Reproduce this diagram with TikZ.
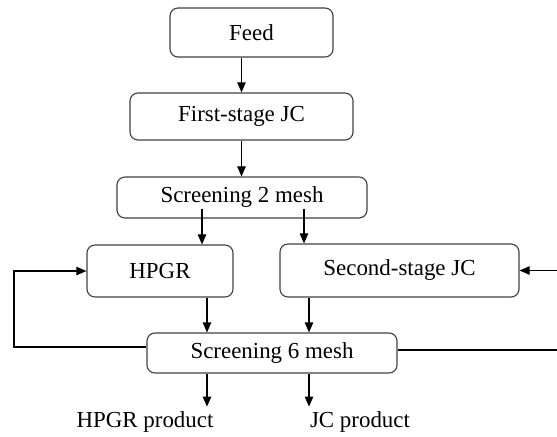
\documentclass[tikz,border=0pt]{standalone}
\usepackage{fontspec}
\setmainfont{Liberation Serif}
\usetikzlibrary{arrows.meta}
\tikzset{
    box/.style = {draw = black!75, line width = .8pt, rounded corners = .2cm, inner sep = 0pt},
    flow/.style = {line width = .8pt, -{Triangle[length = .25cm, width = .21cm]}}
}
\begin{document}
\begin{tikzpicture}[x = .025cm, y = -.025cm, font = \fontsize{16.3}{19.5}\selectfont]
                \useasboundingbox (0, 0) rectangle (557, 436);

                \node[box, minimum width = 4.075cm, minimum height = 1.225cm](feed) at (251.5, 32.5) {Feed};
                \node[box, minimum width = 5.575cm, minimum height = 1.175cm](first) at (241.5, 116.5) {First-stage JC};
                \node[box, minimum width = 6.25cm, minimum height = 1.025cm](screen2) at (242, 197.5) {Screening 2 mesh};

                \node[box, minimum width = 3.65cm, minimum height = 1.3cm](hpgr) at (160, 271) {HPGR};
                \node[box, minimum width = 5.975cm, minimum height = 1.325cm](second) at (399.5, 270.5) {Second-stage JC};

                \node[box, minimum width = 6.25cm, minimum height = 1cm](screen6) at (272, 353) {Screening 6 mesh};

                \node(hprod) at (145, 422) {HPGR product};
                \node(jprod) at (360, 422) {JC product};

                \coordinate(hin) at (202, 0);
                \coordinate(jin) at (304, 0);
                \coordinate(hcol) at (207, 0);
                \coordinate(jcol) at (309, 0);
                \coordinate(left) at (14, 0);
                \coordinate(right) at (560, 0);

                \draw[flow](feed.south -| first.center) to (first.north);
                \draw[flow](first.south) to (screen2.north -| first.south);

                \draw[flow]([yshift = .25cm]screen2.south -| hin) to (hpgr.north -| hin);
                \draw[flow]([yshift = .25cm]screen2.south -| jin) to (second.north -| jin);

                \draw[flow](hpgr.south -| hcol) to (screen6.north -| hcol);
                \draw[flow](second.south -| jcol) to (screen6.north -| jcol);

                \draw[flow](screen6.south -| hcol) to (hprod.north -| hcol);
                \draw[flow](screen6.south -| jcol) to (jprod.north -| jcol);

                \draw[flow]([yshift = .15cm]screen6.west) -| (left |- hpgr.west) -- (hpgr.west);
                \draw[flow]([yshift = .075cm]screen6.east) -| (right |- second.east) -- (second.east);
            \end{tikzpicture}
\end{document}
